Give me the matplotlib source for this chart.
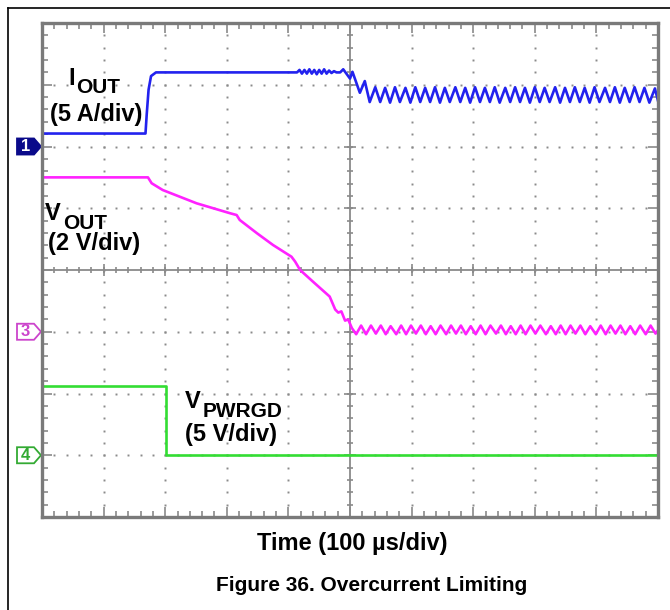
import numpy as np
import matplotlib
matplotlib.use('Agg')
import matplotlib.pyplot as plt
from matplotlib.patches import Polygon
from matplotlib.lines import Line2D
import matplotlib.transforms as mtransforms

plt.rcParams['font.family'] = ['Liberation Sans', 'DejaVu Sans']

###################################
# scope traces, time in us (100 us/div)
# IOUT in A (5 A/div, ground at div 6)
iout_t = [0, 168, 170, 173, 177, 185, 300, 414, 418, 422, 426, 430, 434, 438, 442, 446, 450,
          454, 458, 462, 466, 470, 474, 478, 484, 489, 500, 504, 516, 524,
          532, 541, 549, 557, 565, 573, 581, 590, 598, 606, 614, 622, 630, 638, 646, 654,
          662, 671, 679, 687, 695, 703, 711, 719, 727, 735, 743, 752, 760, 768, 776, 784,
          792, 800, 808, 816, 824, 833, 841, 849, 857, 865, 873, 881, 889, 897, 905, 914,
          922, 930, 938, 946, 954, 962, 970, 978, 986, 995, 1000]
iout_a = [1.05, 1.05, 2.6, 4.6, 5.7, 6.0, 6.0, 6.0, 6.2, 5.9, 6.2, 5.9, 6.25, 5.9, 6.2, 5.85, 6.2,
          5.9, 6.25, 5.9, 6.15, 5.95, 6.1, 6.0, 6.0, 6.25, 5.5, 6.05, 4.35, 5.3,
          3.6, 4.8, 3.6, 4.75, 3.55, 4.8, 3.6, 4.75, 3.55, 4.8, 3.6, 4.75, 3.6, 4.8, 3.55, 4.75,
          3.6, 4.8, 3.6, 4.75, 3.55, 4.8, 3.6, 4.75, 3.6, 4.8, 3.55, 4.75, 3.6, 4.8, 3.6, 4.75,
          3.55, 4.8, 3.6, 4.75, 3.6, 4.8, 3.55, 4.75, 3.6, 4.8, 3.6, 4.75, 3.55, 4.8, 3.6, 4.75,
          3.6, 4.8, 3.55, 4.75, 3.6, 4.8, 3.6, 4.75, 3.55, 4.7, 3.7]

# VOUT in V (2 V/div, ground at div 3)
vout_t = [0, 172, 178, 196, 251, 305, 316, 321, 349, 375, 405, 411, 419, 440, 467, 476, 481,
          486, 492, 497, 503,
          510, 518, 526, 534, 542, 550, 558, 566, 575, 583, 591, 599, 607, 615, 623, 631,
          639, 647, 656, 664, 672, 680, 688, 696, 704, 712, 720, 728, 737, 745, 753, 761,
          769, 777, 785, 793, 801, 809, 818, 826, 834, 842, 850, 858, 866, 874, 882, 890,
          899, 907, 915, 923, 931, 939, 947, 955, 963, 971, 980, 988, 996, 1000]
vout_v = [5.0, 5.0, 4.81, 4.59, 4.16, 3.84, 3.78, 3.62, 3.19, 2.81, 2.43, 2.27, 2.0, 1.62, 1.14,
          0.72, 0.62, 0.66, 0.36, 0.4, 0.12,
          -0.08, 0.2, -0.08, 0.2, -0.06, 0.2, -0.08, 0.18, -0.08, 0.2, -0.08, 0.2, -0.06, 0.2,
          -0.08, 0.18, -0.08, 0.2, -0.08, 0.2, -0.06, 0.2, -0.08, 0.18, -0.08, 0.2, -0.08, 0.2,
          -0.06, 0.2, -0.08, 0.18, -0.08, 0.2, -0.08, 0.2, -0.06, 0.2, -0.08, 0.18, -0.08, 0.2,
          -0.08, 0.2, -0.06, 0.2, -0.08, 0.18, -0.08, 0.2, -0.08, 0.2, -0.06, 0.2, -0.08, 0.18,
          -0.08, 0.2, -0.08, 0.2, -0.06, 0.05]

# VPWRGD in V (5 V/div, ground at div 1)
pg_t = [0, 201, 201, 1000]
pg_v = [5.6, 5.6, 0.05, 0.05]

# channel ground positions (div) and scales (unit/div)
ch1_pos, ch1_scale = 6, 5
ch3_pos, ch3_scale = 3, 2
ch4_pos, ch4_scale = 1, 5

W, H = 670, 610
grid_col = '#8a8a8a'

fig = plt.figure(figsize=(W / 100, H / 100), dpi=100)
ax = fig.add_axes([42 / W, (H - 517) / H, 616 / W, 494 / H])
ax.set_xlim(0, 1000)
ax.set_ylim(0, 8)

# dotted graticule
for k in range(1, 10):
    if k != 5:
        ax.plot([k * 100] * 39, np.arange(1, 40) * 0.2, ls='none', marker='s', ms=1.4,
                color=grid_col, mec='none')
for k in range(1, 8):
    if k != 4:
        ax.plot(np.arange(1, 50) * 20, [k] * 49, ls='none', marker='s', ms=1.4,
                color=grid_col, mec='none')

# centre axes with ticks
ax.axvline(500, color=grid_col, lw=1.3)
ax.axhline(4, color=grid_col, lw=1.3)
ax.plot([500] * 39, np.arange(1, 40) * 0.2, ls='none', marker='_', ms=5, mew=1.2, color=grid_col)
ax.plot([500] * 7, np.arange(1, 8), ls='none', marker='_', ms=9, mew=1.2, color=grid_col)
ax.plot(np.arange(1, 50) * 20, [4] * 49, ls='none', marker='|', ms=5, mew=1.2, color=grid_col)
ax.plot(np.arange(1, 10) * 100, [4] * 9, ls='none', marker='|', ms=9, mew=1.2, color=grid_col)

# frame ticks
ax.set_xticks(np.arange(0, 1001, 100))
ax.set_xticks(np.arange(0, 1001, 20), minor=True)
ax.set_yticks(np.arange(0, 9, 1))
ax.set_yticks(np.arange(0, 8.01, 0.2), minor=True)
ax.tick_params(which='both', direction='in', top=True, right=True, labelbottom=False,
               labelleft=False, color=grid_col, width=1.2)
ax.tick_params(which='major', length=7)
ax.tick_params(which='minor', length=4)
for s in ax.spines.values():
    s.set_color('#7a7a7a')
    s.set_linewidth(2.4)

# traces
ax.plot(iout_t, ch1_pos + np.array(iout_a) / ch1_scale, color='#2222ee', lw=1.9)
ax.plot(vout_t, ch3_pos + np.array(vout_v) / ch3_scale, color='#ff22ff', lw=1.9)
ax.plot(pg_t, ch4_pos + np.array(pg_v) / ch4_scale, color='#33dd33', lw=1.9)

# channel markers
bt = mtransforms.blended_transform_factory(fig.transFigure, ax.transData)
def marker(pos, txt, face, edge, tcol):
    h = 0.13
    pts = [(17 / W, pos - h), (34 / W, pos - h), (41 / W, pos), (34 / W, pos + h), (17 / W, pos + h)]
    ax.add_patch(Polygon(pts, closed=True, transform=bt, fc=face, ec=edge, lw=1.3, clip_on=False))
    ax.text(25.5 / W, pos, txt, transform=bt, color=tcol, fontsize=12, fontweight='bold',
            ha='center', va='center', clip_on=False)

marker(ch1_pos, '1', '#0a0a8a', '#0a0a8a', 'white')
marker(ch3_pos, '3', 'white', '#cc44cc', '#cc44cc')
marker(ch4_pos, '4', 'white', '#33aa33', '#33aa33')

def px(x, y):
    return x / W, 1 - y / H

# trace labels
fig.text(*px(68, 85), 'I', fontsize=17, fontweight='bold')
fig.text(*px(76, 93), 'OUT', fontsize=15, fontweight='bold')
fig.text(*px(50, 121), '(5 A/div)', fontsize=17, fontweight='bold')
fig.text(*px(45, 220), 'V', fontsize=17, fontweight='bold')
fig.text(*px(63, 229), 'OUT', fontsize=15, fontweight='bold')
fig.text(*px(48, 250), '(2 V/div)', fontsize=17, fontweight='bold')
fig.text(*px(185, 408), 'V', fontsize=17, fontweight='bold')
fig.text(*px(203, 417), 'PWRGD', fontsize=15, fontweight='bold')
fig.text(*px(185, 441), '(5 V/div)', fontsize=17, fontweight='bold')

fig.text(*px(352, 550), 'Time (100 µs/div)', fontsize=17, fontweight='bold', ha='center')
fig.text(*px(372, 591), 'Figure 36. Overcurrent Limiting', fontsize=15, fontweight='bold',
         ha='center')

# outer box (left and top edges)
fig.add_artist(Line2D([8 / W, 8 / W], [0, 1 - 8 / H], transform=fig.transFigure, color='k', lw=1.2))
fig.add_artist(Line2D([8 / W, 1], [1 - 8 / H, 1 - 8 / H], transform=fig.transFigure, color='k', lw=1.2))

plt.savefig('out.png', dpi=100)
